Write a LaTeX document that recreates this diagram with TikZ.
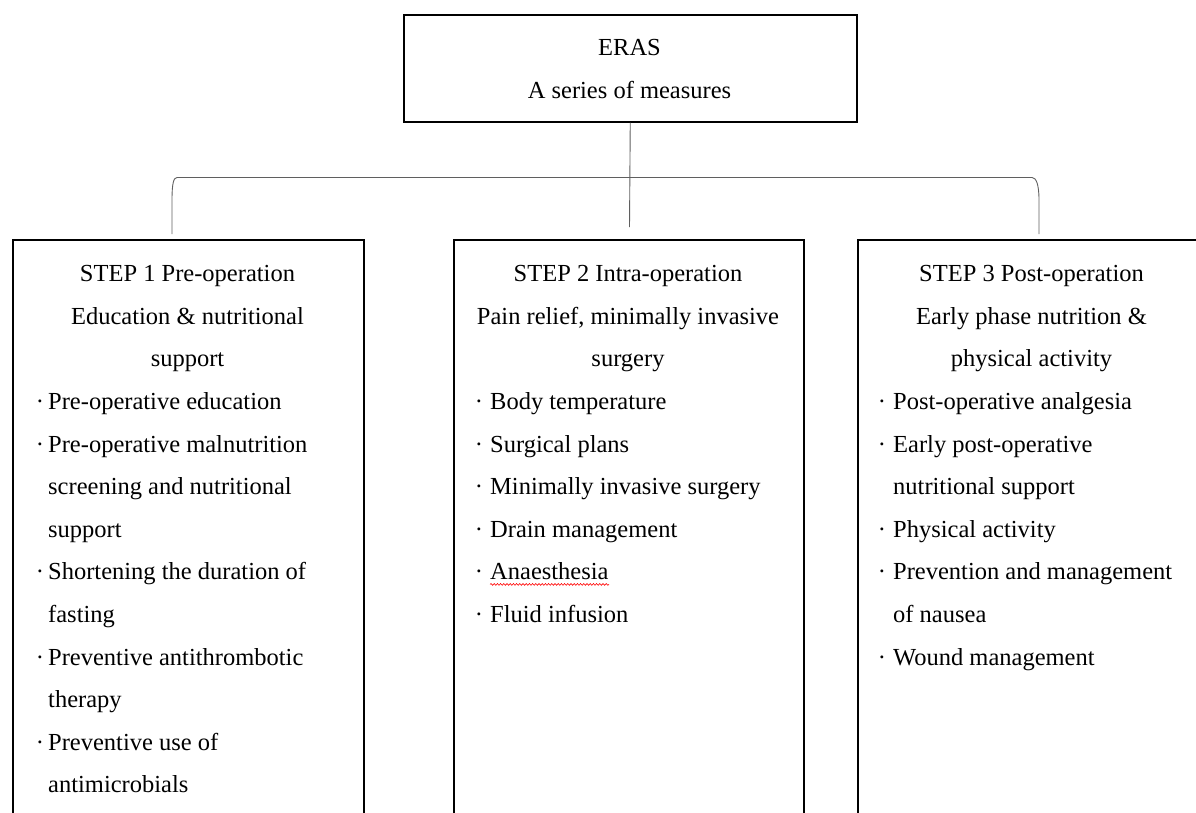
\documentclass[tikz,border=0pt]{standalone}
\usepackage{fontspec}
\setmainfont{Liberation Serif}
\usetikzlibrary{decorations.pathmorphing}
\definecolor{linkgray}{RGB}{95,95,95}
\begin{document}
\begin{tikzpicture}[x=1pt,y=-1pt,
  boxstyle/.style={draw=black,line width=1.5pt,rectangle,anchor=north west,inner sep=0pt},
  txt/.style={inner sep=0pt,font=\fontsize{24.5}{29}\selectfont,text=black},
  head/.style={txt,anchor=base},
  item/.style={txt,anchor=base west},
  dotm/.style={txt,anchor=base},
  link/.style={draw=linkgray,line width=0.9pt},
  squig/.style={draw=red,line width=0.6pt,decorate,decoration={snake,amplitude=0.9pt,segment length=3.2pt}}]
\useasboundingbox (0,0) rectangle (1196,812);
\clip (0,0) rectangle (1196,812);

% boxes
\node[boxstyle,minimum width=453pt,minimum height=107pt] (top) at (403,14) {};
\node[boxstyle,minimum width=351pt,minimum height=700pt] (b1) at (12,239) {};
\node[boxstyle,minimum width=350pt,minimum height=700pt] (b2) at (453,239) {};
\node[boxstyle,minimum width=351pt,minimum height=700pt] (b3) at (857,239) {};

% top text
\node[head] (eras) at (629.5,55) {ERAS};
\node[head] (series) at (629.5,98) {A series of measures};

% connectors
\coordinate (stemend) at (629.5,227);
\coordinate (lend) at (172,234);
\coordinate (rend) at (1039,234);
\draw[link] (top.south) -- (stemend);
\draw[link] (lend) -- (172,200) .. controls (172,184) and (173.5,177.5) .. (177,177.5)
  -- (1032,177.5) .. controls (1036,177.5) and (1039,184) .. (1039,200) -- (rend);

% box 1
\node[head] (a0) at (187.5,281.7) {STEP 1 Pre-operation};
\node[head] (a1) at (187.5,324.3) {Education \& nutritional};
\node[head] (a2) at (187.5,366.9) {support};
\node[dotm] (ad3) at (40,409.5) {·};
\node[item] (a3) at (48,409.5) {Pre-operative education};
\node[dotm] (ad4) at (40,452.1) {·};
\node[item] (a4) at (48,452.1) {Pre-operative malnutrition};
\node[item] (a5) at (48,494.7) {screening and nutritional};
\node[item] (a6) at (48,537.3) {support};
\node[dotm] (ad7) at (40,579.9) {·};
\node[item] (a7) at (48,579.9) {Shortening the duration of};
\node[item] (a8) at (48,622.5) {fasting};
\node[dotm] (ad9) at (40,665.1) {·};
\node[item] (a9) at (48,665.1) {Preventive antithrombotic};
\node[item] (a10) at (48,707.7) {therapy};
\node[dotm] (ad11) at (40,750.3) {·};
\node[item] (a11) at (48,750.3) {Preventive use of};
\node[item] (a12) at (48,792.9) {antimicrobials};

% box 2
\node[head] (c0) at (628,281.7) {STEP 2 Intra-operation};
\node[head] (c1) at (628,324.3) {Pain relief, minimally invasive};
\node[head] (c2) at (628,366.9) {surgery};
\node[dotm] (cd3) at (479,409.5) {·};
\node[item] (c3) at (490,409.5) {Body temperature};
\node[dotm] (cd4) at (479,452.1) {·};
\node[item] (c4) at (490,452.1) {Surgical plans};
\node[dotm] (cd5) at (479,494.7) {·};
\node[item] (c5) at (490,494.7) {Minimally invasive surgery};
\node[dotm] (cd6) at (479,537.3) {·};
\node[item] (c6) at (490,537.3) {Drain management};
\node[dotm] (cd7) at (479,579.9) {·};
\node[item] (c7) at (490,579.9) {Anaesthesia};
\node[dotm] (cd8) at (479,622.5) {·};
\node[item] (c8) at (490,622.5) {Fluid infusion};
\draw[squig] (c7.base west) ++(0,4.5) -- ++(119,0);

% box 3
\node[head] (e0) at (1031.5,281.7) {STEP 3 Post-operation};
\node[head] (e1) at (1031.5,324.3) {Early phase nutrition \&};
\node[head] (e2) at (1031.5,366.9) {physical activity};
\node[dotm] (ed3) at (882,409.5) {·};
\node[item] (e3) at (893,409.5) {Post-operative analgesia};
\node[dotm] (ed4) at (882,452.1) {·};
\node[item] (e4) at (893,452.1) {Early post-operative};
\node[item] (e5) at (893,494.7) {nutritional support};
\node[dotm] (ed6) at (882,537.3) {·};
\node[item] (e6) at (893,537.3) {Physical activity};
\node[dotm] (ed7) at (882,579.9) {·};
\node[item] (e7) at (893,579.9) {Prevention and management};
\node[item] (e8) at (893,622.5) {of nausea};
\node[dotm] (ed9) at (882,665.1) {·};
\node[item] (e9) at (893,665.1) {Wound management};
\end{tikzpicture}
\end{document}
